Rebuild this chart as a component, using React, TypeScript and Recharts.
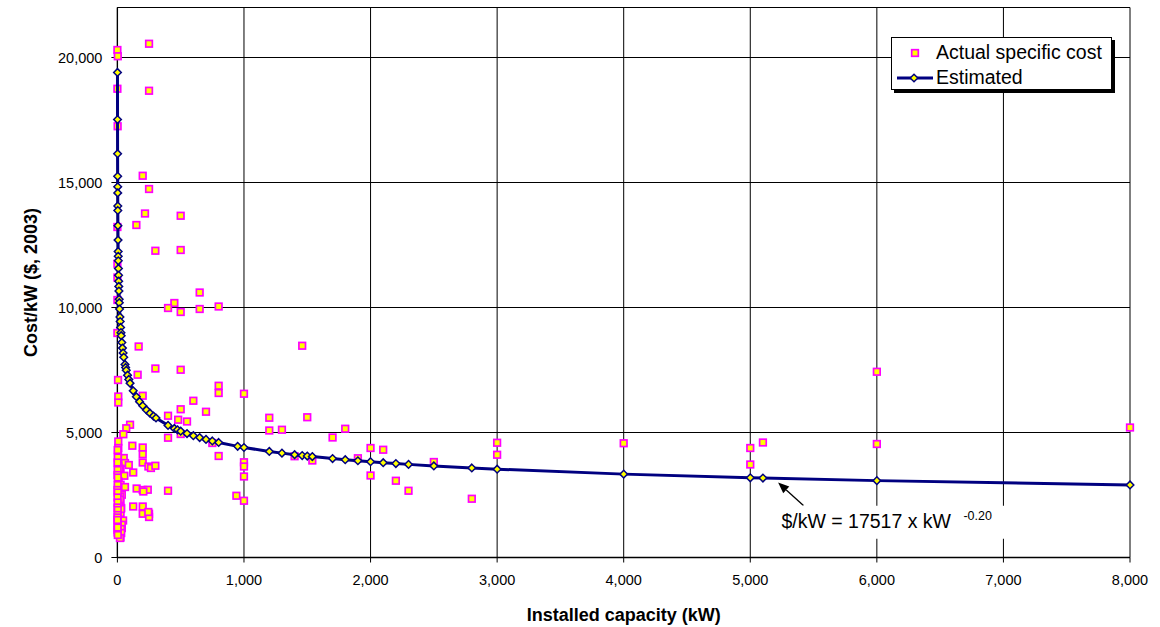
import React from 'react';
import { ScatterChart, Scatter, XAxis, YAxis, CartesianGrid, ReferenceLine, ReferenceDot, Legend } from 'recharts';

const FONT = '"Liberation Sans", Arial, Helvetica, sans-serif';

// Actual specific cost observations (capacity kW, cost $/kW)
const actualCapacity = [
  0, 3, 250, 0, 250, 2,
  200, 250, 218, 500, 150, 0, 300, 500, 0, 0, 0, 0,
  650, 450, 400, 500, 650, 800, 1460, 168, 300, 500, 6000, 5,
  160, 7, 7, 200, 800, 800, 1000, 600, 500, 700, 400, 480, 550,
  1200, 1500, 1200, 1300, 1800, 1700, 100, 70, 47, 400, 500,
  7, 7, 118, 200, 200, 750, 800, 1000, 1000, 1000, 1400, 1540, 1900,
  2000, 2100, 2000, 2200, 2300, 2500, 2800, 3000, 3000, 4000,
  5000, 5000, 5100, 6000, 8000,
  50, 60, 90, 125, 7, 25, 55, 200, 245, 265, 300,
  10, 25, 60, 35, 152, 200, 240, 205, 400, 940, 1000,
  125, 200, 200, 250, 250, 244,
  20, 25, 30, 25, 45, 35, 25, 20, 15, 28, 35, 28, 30, 20,
  5, 5, 15, 5,
  2, 3, 1, 2, 1, 3, 2, 1, 3, 1, 2, 1, 3, 2, 1, 3, 2, 1, 2, 3, 1, 2,
];
const actualCost = [
  20300, 20050, 20550, 18750, 18670, 17250,
  15270, 14740, 13760, 13670, 13300, 13220, 12270, 12300, 11750, 11200, 10300, 8980,
  10600, 10180, 9980, 9820, 9940, 10040, 8470, 8440, 7560, 7510, 7430, 7100,
  7310, 6440, 6200, 6470, 6870, 6580, 6550, 6270, 5930, 5830, 5670, 5510, 5440,
  5590, 5610, 5080, 5110, 5150, 4800, 5310, 5170, 4930, 4790, 4940,
  4640, 4380, 4470, 4400, 4130, 4580, 4060, 3810, 3640, 3240, 4050, 3880, 3970,
  4380, 4310, 3280, 3070, 2670, 3820, 2350, 4590, 4110, 4570,
  4380, 3720, 4600, 4540, 5200,
  3980, 3780, 3700, 3400, 3640, 3550, 3270, 3800, 3640, 3580, 3670,
  3040, 2910, 2820, 2510, 2760, 2700, 2710, 2640, 2670, 2470, 2270,
  2040, 2040, 1750, 1750, 1620, 1820,
  2440, 2180, 1980, 1780, 1480, 1180, 800, 2310, 2070, 1940, 1310, 1140, 980, 780,
  4110, 3710, 3540, 2780,
  4300, 4000, 3800, 3500, 3300, 3200, 2900, 2700, 2600, 2400, 2200, 2000, 1900, 1700, 1600, 1400, 1300, 1100, 1000, 900, 1500, 1200,
];

// Estimated curve points
const estCapacity = [
  0.6, 1, 1.5, 2, 2.3, 2.5, 3, 3.2, 4, 5, 6, 6.5, 7, 8, 9, 10, 11, 12, 14, 15, 17, 20, 22, 25, 28, 30,
  35, 40, 45, 50, 60, 65, 70, 80, 90, 100, 125, 150, 175, 200, 230, 257, 285, 305,
  400, 450, 475, 500, 550, 600, 650, 700, 750, 800, 950, 1000,
  1200, 1300, 1400, 1460, 1500, 1540, 1700, 1800, 1900, 2000, 2100, 2200, 2300, 2500, 2800, 3000,
  4000, 5000, 5100, 6000, 8000,
];
const estCost = [
  19402, 17517, 16152, 15249, 14829, 14584, 14061, 13881, 13275, 12696, 12241, 12047, 11870, 11557, 11288, 11053, 10844, 10657, 10333, 10192, 9940, 9622, 9440, 9202, 8995, 8872,
  8603, 8376, 8181, 8011, 7724, 7601, 7489, 7292, 7122, 6974, 6669, 6431, 6235, 6071, 5903, 5774, 5656, 5580,
  5285, 5162, 5107, 5054, 4959, 4873, 4796, 4725, 4661, 4601, 4446, 4400,
  4243, 4175, 4114, 4079, 4057, 4036, 3957, 3912, 3870, 3831, 3793, 3758, 3725, 3663, 3581, 3532,
  3335, 3189, 3177, 3075, 2903,
];

const xTicks = [0, 1000, 2000, 3000, 4000, 5000, 6000, 7000, 8000];
const yTicks = [0, 5000, 10000, 15000, 20000];

const seriesNames = ['Actual specific cost', 'Estimated'];
const equationText = '$/kW = 17517 x kW';
const equationExp = '-0.20';

const actualData = actualCapacity.map((x, i) => ({ x, y: actualCost[i] }));
const estData = estCapacity.map((x, i) => ({ x, y: estCost[i] }));

const fmt = (v: number) => v.toLocaleString('en-US');

const SquareShape = (p: any) => {
  const { cx, cy } = p;
  if (cx == null || cy == null) return <g />;
  return (
    <rect x={cx - 3.3} y={cy - 3.3} width={6.6} height={6.6} fill="#FFFF00" stroke="#FF00FF" strokeWidth={1.7} />
  );
};

const DiamondShape = (p: any) => {
  const { cx, cy } = p;
  if (cx == null || cy == null) return <g />;
  const r = 3.8;
  return (
    <polygon
      points={`${cx},${cy - r} ${cx + r},${cy} ${cx},${cy + r} ${cx - r},${cy}`}
      fill="#FFFF00"
      stroke="#000080"
      strokeWidth={1.5}
    />
  );
};

const ArrowShape = (p: any) => {
  const { x1, y1, x2, y2 } = p;
  const ang = Math.atan2(y2 - y1, x2 - x1);
  const L = 11;
  const W = 4.5;
  const bx = x2 - L * Math.cos(ang);
  const by = y2 - L * Math.sin(ang);
  const px = -Math.sin(ang) * W;
  const py = Math.cos(ang) * W;
  return (
    <g>
      <line x1={x1} y1={y1} x2={bx} y2={by} stroke="#000" strokeWidth={1.3} />
      <polygon points={`${x2},${y2} ${bx + px},${by + py} ${bx - px},${by - py}`} fill="#000" />
    </g>
  );
};

const EquationShape = (p: any) => {
  const { cx, cy } = p;
  if (cx == null || cy == null) return <g />;
  return (
    <g>
      <rect x={cx - 17} y={cy - 22} width={245} height={33} fill="#fff" />
      <text x={cx} y={cy} fontSize={19.5} fill="#000" fontFamily={FONT}>
        {equationText}
      </text>
      <text x={cx + 182} y={cy - 8} fontSize={12.5} fill="#000" fontFamily={FONT}>
        {equationExp}
      </text>
    </g>
  );
};

const LegendContent = () => (
  <div
    style={{
      width: 221,
      height: 53,
      border: '1px solid #000',
      background: '#fff',
      boxShadow: '3px 3px 0 #000',
      boxSizing: 'border-box',
      position: 'relative',
      fontFamily: FONT,
      fontSize: 19.5,
      color: '#000',
    }}
  >
    <svg width={44} height={53} style={{ position: 'absolute', left: 0, top: 0 }}>
      <rect x={19.7} y={11.7} width={6.6} height={6.6} fill="#FFFF00" stroke="#FF00FF" strokeWidth={1.7} />
      <line x1={5} y1={40} x2={41} y2={40} stroke="#000080" strokeWidth={3} />
      <polygon points="22,36.2 25.8,40 22,43.8 18.2,40" fill="#FFFF00" stroke="#000080" strokeWidth={1.5} />
    </svg>
    <div style={{ position: 'absolute', left: 44, top: 3, lineHeight: '22px', whiteSpace: 'nowrap' }}>{seriesNames[0]}</div>
    <div style={{ position: 'absolute', left: 44, top: 28, lineHeight: '22px', whiteSpace: 'nowrap' }}>{seriesNames[1]}</div>
  </div>
);

export default function App() {
  return (
    <div style={{ position: 'absolute', left: 0, top: 0, width: 1160, height: 627, background: '#fff', fontFamily: FONT }}>
      <ScatterChart width={1160} height={627} margin={{ top: 7.5, right: 30, bottom: 0, left: 0.4 }}>
        <CartesianGrid stroke="#000" strokeWidth={1} />
        <XAxis
          type="number"
          dataKey="x"
          domain={[0, 8000]}
          ticks={xTicks}
          interval={0}
          tickFormatter={fmt}
          height={69.5}
          tickSize={5}
          tickMargin={12}
          axisLine={{ stroke: '#000', strokeWidth: 1.3 }}
          tickLine={{ stroke: '#000' }}
          tick={{ fill: '#000', fontSize: 14.5 }}
          label={{ value: 'Installed capacity (kW)', position: 'insideBottom', offset: 6, style: { fontWeight: 'bold', fontSize: 18, fill: '#000' } }}
        />
        <YAxis
          type="number"
          dataKey="y"
          domain={[0, 22000]}
          ticks={yTicks}
          interval={0}
          tickFormatter={fmt}
          width={117}
          tickSize={6}
          tickMargin={9}
          axisLine={{ stroke: '#000', strokeWidth: 1.3 }}
          tickLine={{ stroke: '#000' }}
          tick={{ fill: '#000', fontSize: 14.5 }}
          label={{ value: 'Cost/kW ($, 2003)', angle: -90, position: 'insideLeft', offset: 30, style: { textAnchor: 'middle', fontWeight: 'bold', fontSize: 18, fill: '#000' } }}
        />
        <ReferenceLine y={22000} stroke="#000" strokeWidth={1} />
        <ReferenceDot x={5246} y={1190} r={0} shape={EquationShape} />
        <ReferenceLine segment={[{ x: 5420, y: 2080 }, { x: 5220, y: 3000 }]} shape={ArrowShape} />
        <Scatter name={seriesNames[0]} data={actualData} shape={SquareShape} isAnimationActive={false} />
        <Scatter
          name={seriesNames[1]}
          data={estData}
          shape={DiamondShape}
          line={{ stroke: '#000080', strokeWidth: 3 }}
          lineType="joint"
          isAnimationActive={false}
        />
        <Legend
          layout="vertical"
          align="center"
          verticalAlign="middle"
          content={LegendContent}
          wrapperStyle={{ top: 36.5, left: 891, width: 224, height: 56 }}
        />
      </ScatterChart>
    </div>
  );
}
